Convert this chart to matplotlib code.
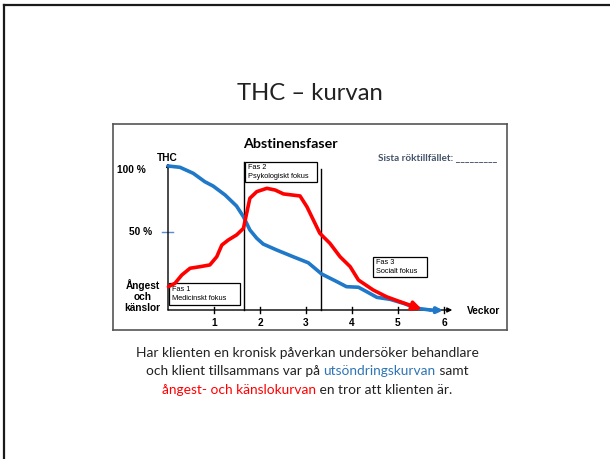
import matplotlib.pyplot as plt

# THC excretion curve (blue), x in weeks, y in percent
thc_weeks = [0.0, 0.26, 0.55, 0.80, 0.98, 1.24, 1.49, 1.64, 1.78, 1.93, 2.07, 2.36, 2.72,
             3.05, 3.34, 3.67, 3.88, 4.14, 4.32, 4.54, 4.83, 5.12, 5.41, 5.70, 5.98]
thc_level = [100, 99.1, 94.9, 89.1, 86.1, 79.9, 72.2, 64.8, 55.6, 49.8, 45.8, 41.7, 37.0,
             32.8, 25.0, 19.7, 16.2, 15.8, 12.7, 8.8, 7.4, 4.6, 1.2, 0.0, -0.3]

# anxiety / emotions curve (red)
angest_weeks = [0.01, 0.15, 0.30, 0.48, 0.70, 0.91, 1.06, 1.17, 1.31, 1.49, 1.64, 1.71, 1.78,
                1.93, 2.15, 2.33, 2.51, 2.87, 3.02, 3.16, 3.30, 3.52, 3.74, 3.96, 4.14, 4.46,
                4.75, 5.04, 5.52]
angest_level = [16.2, 18.5, 24.3, 29.0, 30.1, 31.3, 37.0, 45.1, 48.6, 52.1, 56.7, 67.2, 77.6,
                82.2, 84.5, 83.3, 80.6, 79.2, 71.7, 62.5, 53.3, 46.3, 37.0, 30.1, 20.8, 13.9,
                9.2, 5.8, 0.5]

week_ticks = [1, 2, 3, 4, 5, 6]
phase_lines = [1.66, 3.33]
phases = [("Fas 1\nMedicinskt fokus", 0.03, 3.5, 1.54, 15.0),
          ("Fas 2\nPsykologiskt fokus", 1.67, 88.6, 1.57, 14.4),
          ("Fas 3\nSocialt fokus", 4.46, 23.1, 1.16, 13.9)]

caption = [[("Har klienten en kronisk påverkan undersöker behandlare", "#222222")],
           [("och klient tillsammans var på ", "#222222"), ("utsöndringskurvan", "#2E75B6"),
            (" samt", "#222222")],
           [("ångest- och känslokurvan", "#FF0000"), (" en tror att klienten är.", "#222222")]]

BLUE = "#1F78C8"
RED = "#FF0000"
W, H = 610, 459

fig = plt.figure(figsize=(6.1, 4.59), dpi=100)

# slide background in pixel coordinates
bg = fig.add_axes([0, 0, 1, 1])
bg.set_xlim(0, W)
bg.set_ylim(H, 0)
bg.axis("off")
bg.plot([4, W], [5, 5], color="#1a1a1a", lw=1.6)
bg.plot([4, 4], [5, H], color="#1a1a1a", lw=1.6)
bg.text(310, 93, "THC – kurvan", ha="center", va="center", fontsize=17.2,
        family="Lato", color="#222222")

# chart box: week 0 at px 168, 46 px per week; 0 % at py 310, 1.44 px per unit
ax = fig.add_axes([113 / W, (H - 330) / H, 394 / W, 206 / H])
ax.set_xlim((113 - 168) / 46, (507 - 168) / 46)
ax.set_ylim((310 - 330) / 1.44, (310 - 124) / 1.44)
ax.set_xticks([])
ax.set_yticks([])
for s in ax.spines.values():
    s.set_color("#555555")
    s.set_linewidth(1.2)

bold = dict(family="Liberation Sans", fontweight="bold", fontsize=7.3, color="black")

# axes with arrows
ax.annotate("", xy=(6.18, 0), xytext=(0, 0),
            arrowprops=dict(arrowstyle="-|>", color="black", lw=1, mutation_scale=7,
                            shrinkA=0, shrinkB=0))
ax.annotate("", xy=(0, 102), xytext=(0, 0),
            arrowprops=dict(arrowstyle="-|>", color="black", lw=1, mutation_scale=5,
                            shrinkA=0, shrinkB=0))
for w in week_ticks:
    ax.plot([w, w], [-2.2, 2.2], color="black", lw=1)
    ax.text(w, -8.8, str(w), ha="center", va="center", **bold)
ax.plot([-0.13, 0.11], [54, 54], color="#5B8ED0", lw=1)

# phase lines and boxes
ax.plot([phase_lines[0]] * 2, [0, 103], color="black", lw=1)
ax.plot([phase_lines[1]] * 2, [0, 97.7], color="black", lw=1)
for label, x0, y0, w, h in phases:
    ax.add_patch(plt.Rectangle((x0, y0), w, h, facecolor="white", edgecolor="black",
                               lw=0.9, zorder=3))
    ax.text(x0 + 0.06, y0 + h / 2, label, ha="left", va="center", fontsize=5.3,
            family="Liberation Sans", linespacing=1.35, zorder=4)

# curves
ax.plot(thc_weeks[:-1], thc_level[:-1], color=BLUE, lw=2.6, solid_capstyle="round", zorder=5)
ax.annotate("", xy=(thc_weeks[-1], thc_level[-1]), xytext=(thc_weeks[-2], thc_level[-2]),
            arrowprops=dict(arrowstyle="-|>", color=BLUE, lw=2.6, mutation_scale=8,
                            shrinkA=0, shrinkB=0), zorder=5)
ax.plot(angest_weeks[:-1], angest_level[:-1], color=RED, lw=2.6, solid_capstyle="round", zorder=6)
ax.annotate("", xy=(angest_weeks[-1], angest_level[-1]),
            xytext=(angest_weeks[-2], angest_level[-2]),
            arrowprops=dict(arrowstyle="-|>", color=RED, lw=2.6, mutation_scale=13,
                            shrinkA=0, shrinkB=0), zorder=6)

# labels
ax.text(2.65, 115, "Abstinensfaser", ha="center", va="center", family="Lato",
        fontweight="bold", fontsize=10.3)
ax.text(5.87, 106, "Sista röktillfället: _________", ha="center", va="center", family="Lato",
        fontweight="bold", fontsize=7.2, color="#44546A")
ax.text(-0.01, 105.5, "THC", ha="center", va="center", **bold)
ax.text(-0.8, 97, "100 %", ha="center", va="center", **bold)
ax.text(-0.59, 54, "50 %", ha="center", va="center", **bold)
ax.text(-0.55, 9.5, "Ångest\noch\nkänslor", ha="center", va="center", linespacing=1.1, **bold)
ax.text(6.5, -0.5, "Veckor", ha="left", va="center", **bold)

# caption with coloured parts, centred line by line
r = fig.canvas.get_renderer()
cap_font = dict(family="Lato", fontsize=9.9)


def width_of(s):
    t = fig.text(0, 0, "|" + s + "|", **cap_font)
    t2 = fig.text(0, 0, "||", **cap_font)
    w = t.get_window_extent(r).width - t2.get_window_extent(r).width
    t.remove()
    t2.remove()
    return w


for i, line in enumerate(caption):
    py = 353 + 18.3 * i
    widths = [width_of(s) for s, c in line]
    x = 307 - sum(widths) / 2
    for (s, c), w in zip(line, widths):
        fig.text(x / W, 1 - py / H, s, color=c, va="center", ha="left", **cap_font)
        x += w

fig.savefig("out.png", dpi=100)
